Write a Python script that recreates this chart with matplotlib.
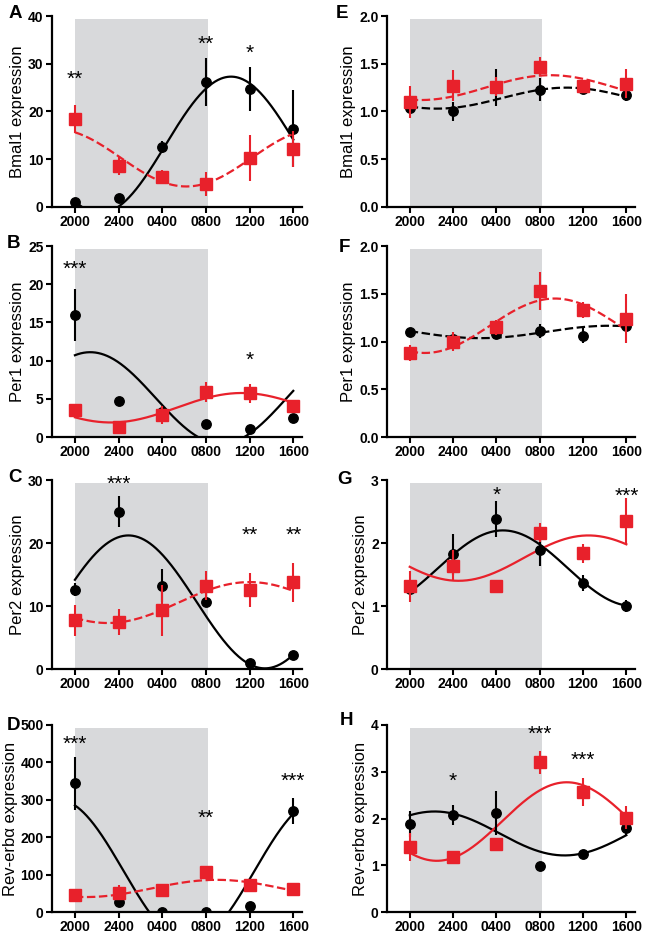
import numpy as np
import matplotlib.pyplot as plt
from matplotlib.transforms import offset_copy

plt.rcParams['font.family'] = ['Liberation Sans', 'DejaVu Sans']

RED = '#e8212b'
SHADE = '#d8d9db'

hours = [0, 4, 8, 12, 16, 20]
time_labels = ['2000', '2400', '0400', '0800', '1200', '1600']

# fit params: mesor, amplitude, acrophase (h after 2000), period (h)
# A - Bmal1
a_black = [1.0, 1.8, 12.6, 26.2, 24.8, 16.4]
a_black_err = [0.3, 0.5, 1.2, 5.0, 4.6, 8.0]
a_red = [18.4, 8.6, 6.3, 4.8, 10.3, 12.1]
a_red_err = [3.0, 2.0, 1.5, 2.6, 4.8, 3.8]
a_black_fit = [13.0, 14.3, 14.3, 24]
a_red_fit = [10.3, 6.0, 22.2, 24]
a_stars = [(0, 27.5, '**'), (12, 35.0, '**'), (16, 33.0, '*')]

# B - Per1
b_black = [16.0, 4.7, 3.3, 1.7, 1.1, 2.5]
b_black_err = [3.4, 0.3, 0.5, 0.2, 0.2, 0.3]
b_red = [3.5, 1.3, 2.9, 5.9, 5.7, 4.0]
b_red_err = [0.4, 0.4, 1.2, 1.3, 1.2, 0.6]
b_black_fit = [5.1, 6.0, 1.4, 24]
b_red_fit = [3.83, 1.93, 15.3, 24]
b_stars = [(0, 22.5, '***'), (16, 10.6, '*')]

# C - Per2
c_black = [12.6, 25.0, 13.2, 10.7, 0.95, 2.2]
c_black_err = [1.0, 2.5, 2.6, 0.6, 0.3, 0.4]
c_red = [7.7, 7.5, 9.3, 13.2, 12.6, 13.8]
c_red_err = [2.4, 2.1, 4.0, 2.3, 2.7, 3.1]
c_black_fit = [10.65, 10.55, 4.9, 25]
c_red_fit = [10.55, 3.25, 16.0, 26]
c_stars = [(4, 30.0, '***'), (16, 21.8, '**'), (20, 21.8, '**')]

# D - Rev-erb alpha
d_black = [344, 28, 0, 0, 15, 270]
d_black_err = [70, 5, 0, 0, 3, 36]
d_red = [46, 51, 58, 106, 72, 61]
d_red_err = [6, 20, 8, 8, 10, 10]
d_black_fit = [110, 190.5, 22.45, 24]
d_red_fit = [63, 23, 13.0, 24]
d_stars = [(0, 460, '***'), (12, 260, '**'), (20, 360, '***')]

# E - Bmal1
e_black = [1.04, 1.00, 1.25, 1.23, 1.24, 1.17]
e_black_err = [0.05, 0.1, 0.19, 0.12, 0.04, 0.06]
e_red = [1.10, 1.27, 1.26, 1.47, 1.27, 1.29]
e_red_err = [0.17, 0.16, 0.1, 0.1, 0.05, 0.15]
e_black_fit = [1.14, 0.11, 14.5, 24]
e_red_fit = [1.25, 0.13, 13.0, 24]
e_stars = []

# F - Per1
f_black = [1.10, 1.03, 1.08, 1.11, 1.06, 1.16]
f_black_err = [0.03, 0.05, 0.05, 0.07, 0.08, 0.04]
f_red = [0.88, 1.00, 1.15, 1.53, 1.33, 1.24]
f_red_err = [0.08, 0.1, 0.08, 0.2, 0.08, 0.26]
f_black_fit = [1.1, 0.065, 18.5, 24]
f_red_fit = [1.165, 0.285, 13.4, 24]
f_stars = []

# G - Per2
g_black = [1.27, 1.82, 2.38, 1.89, 1.37, 1.00]
g_black_err = [0.05, 0.32, 0.28, 0.25, 0.13, 0.1]
g_red = [1.31, 1.64, 1.31, 2.16, 1.84, 2.35]
g_red_err = [0.24, 0.25, 0.05, 0.15, 0.15, 0.36]
g_black_fit = [1.6, 0.6, 8.6, 24]
g_red_fit = [1.76, 0.36, 16.5, 24]
g_stars = [(8, 2.82, '*'), (20, 2.81, '***')]

# H - Rev-erb alpha
h_black = [1.88, 2.08, 2.12, 0.99, 1.23, 1.80]
h_black_err = [0.28, 0.21, 0.47, 0.03, 0.05, 0.15]
h_red = [1.40, 1.17, 1.45, 3.20, 2.57, 2.02]
h_red_err = [0.3, 0.05, 0.1, 0.24, 0.3, 0.25]
h_black_fit = [1.68, 0.47, 2.3, 24]
h_red_fit = [1.935, 0.84, 14.5, 24]
h_stars = [(4, 2.87, '*'), (12, 3.89, '***'), (16, 3.33, '***')]

ylabels = ['Bmal1 expression', 'Per1 expression', 'Per2 expression', 'Rev-erbα expression']


def cosinor(x, p):
    m, amp, phase, period = p
    return m + amp * np.cos(2 * np.pi * (x - phase) / period)


panels = [
    # letter, col, row, black, black_err, red, red_err, black fit, red fit, black ls, red ls, yticks, stars
    ('A', 0, 0, a_black, a_black_err, a_red, a_red_err, a_black_fit, a_red_fit, '-', '--', np.arange(0, 41, 10), a_stars),
    ('B', 0, 1, b_black, b_black_err, b_red, b_red_err, b_black_fit, b_red_fit, '-', '-', np.arange(0, 26, 5), b_stars),
    ('C', 0, 2, c_black, c_black_err, c_red, c_red_err, c_black_fit, c_red_fit, '-', '--', np.arange(0, 31, 10), c_stars),
    ('D', 0, 3, d_black, d_black_err, d_red, d_red_err, d_black_fit, d_red_fit, '-', '--', np.arange(0, 501, 100), d_stars),
    ('E', 1, 0, e_black, e_black_err, e_red, e_red_err, e_black_fit, e_red_fit, '--', '--', np.arange(0, 2.01, 0.5), e_stars),
    ('F', 1, 1, f_black, f_black_err, f_red, f_red_err, f_black_fit, f_red_fit, '--', '--', np.arange(0, 2.01, 0.5), f_stars),
    ('G', 1, 2, g_black, g_black_err, g_red, g_red_err, g_black_fit, g_red_fit, '-', '-', np.arange(0, 3.01, 1), g_stars),
    ('H', 1, 3, h_black, h_black_err, h_red, h_red_err, h_black_fit, h_red_fit, '-', '-', np.arange(0, 4.01, 1), h_stars),
]

W, H = 647, 938
col_x = [(52, 250), (387, 248)]
row_y = [(16, 207), (246, 437), (480, 669), (725, 912)]
letter_pos = {'A': (15, 14), 'B': (14, 244), 'C': (15, 477), 'D': (14, 725),
              'E': (342, 14), 'F': (344, 247), 'G': (345, 479), 'H': (347, 720)}

fig = plt.figure(figsize=(W / 100, H / 100), dpi=100)
xs = np.linspace(0, 20, 300)
dash = (0, (3.8, 1.6))

for (letter, col, row, blk, blk_err, red, red_err, bfit, rfit,
     bls, rls, yticks, stars) in panels:
    x0, w = col_x[col]
    top, bot = row_y[row]
    ax = fig.add_axes([x0 / W, 1 - bot / H, w / W, (bot - top) / H])
    ymax = yticks[-1]

    ax.axvspan(0.05, 12.2, ymin=0, ymax=0.985, color=SHADE, lw=0, zorder=0)

    ax.plot(xs, cosinor(xs, bfit), color='black', lw=1.6,
            ls=dash if bls == '--' else '-', zorder=2)
    ax.plot(xs, cosinor(xs, rfit), color=RED, lw=1.6,
            ls=dash if rls == '--' else '-', zorder=2)

    ax.errorbar(hours, blk, yerr=blk_err, fmt='o', color='black', ms=6.8,
                elinewidth=1.5, capsize=0, zorder=3)
    ax.errorbar(hours, red, yerr=red_err, fmt='s', color=RED, ms=8.2,
                elinewidth=1.5, capsize=0, zorder=4)

    star_tr = offset_copy(ax.transData, fig=fig, y=-4, units='dots')
    for sx, sy, s in stars:
        ax.text(sx, sy, s, ha='center', va='center', fontsize=15,
                transform=star_tr, zorder=5)

    ax.set_xlim(-2.1, 20.8)
    ax.set_ylim(0, ymax)
    ax.set_xticks(hours)
    ax.set_xticklabels(time_labels)
    ax.set_yticks(yticks)
    if ymax <= 2:
        ax.set_yticklabels([f'{v:.1f}' for v in yticks])
    else:
        ax.set_yticklabels([f'{v:g}' for v in yticks])
    for lab in ax.get_xticklabels() + ax.get_yticklabels():
        lab.set_fontweight('bold')
        lab.set_fontsize(10)
    ax.tick_params(direction='out', length=4, width=1.5, pad=2)
    for side in ('top', 'right'):
        ax.spines[side].set_visible(False)
    for side in ('left', 'bottom'):
        ax.spines[side].set_linewidth(1.6)
    ax.set_ylabel(ylabels[row], fontsize=12, labelpad=2)
    ax.set_facecolor('none')

    lx, ly = letter_pos[letter]
    fig.text(lx / W, 1 - ly / H, letter, fontsize=13.5, fontweight='bold',
             ha='center', va='center')

fig.savefig('out.png', dpi=100)
